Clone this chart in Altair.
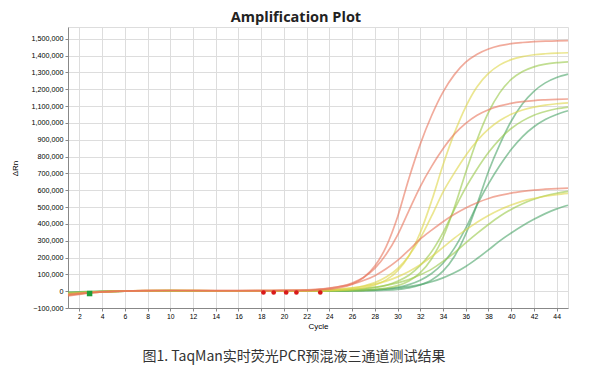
import altair as alt
import pandas as pd

cycles = [1, 2, 3, 4, 5, 6, 8, 10, 12, 14, 16, 18, 20,
          22, 23, 24, 25, 26, 27, 28, 29, 30, 31, 32, 33,
          34, 35, 36, 37, 38, 39, 40, 41, 42, 43, 44, 45]

# ΔRn values in thousands
t_red = [-24, -16, -9, -4, -1, 1, 3, 4, 3, 2, 2, 2, 3,
         3, 6, 11, 22, 42, 80, 149, 265, 441, 670, 874, 1044,
         1183, 1287, 1361, 1408, 1439, 1459, 1471, 1478, 1483, 1486, 1487, 1489]
t_yellow = [-20, -14, -8, -4, -1, 1, 3, 3, 3, 2, 1, 1, 1,
            1, 2, 3, 6, 11, 20, 37, 67, 121, 210, 348, 537,
            750, 939, 1096, 1215, 1294, 1345, 1376, 1394, 1405, 1411, 1415, 1417]
t_lgreen = [-14, -10, -6, -3, -1, 0, 2, 3, 2, 1, 1, 0, 0,
            0, 0, 1, 2, 3, 5, 10, 18, 33, 61, 110, 193,
            319, 497, 705, 900, 1062, 1180, 1258, 1305, 1333, 1349, 1358, 1363]
t_green = [-10, -7, -4, -2, -1, 0, 2, 2, 2, 1, 0, 0, 0,
           0, 0, 0, 0, 1, 2, 3, 6, 11, 20, 37, 66,
           119, 206, 339, 517, 711, 872, 1010, 1114, 1188, 1238, 1270, 1290]
m_red = [-28, -19, -11, -5, -2, 0, 3, 4, 4, 3, 3, 3, 4,
         5, 10, 17, 29, 49, 82, 136, 219, 333, 479, 622, 742,
         846, 933, 997, 1045, 1078, 1101, 1116, 1126, 1133, 1137, 1140, 1142]
m_yellow = [-22, -15, -9, -4, -1, 1, 3, 4, 3, 2, 2, 1, 2,
            2, 4, 6, 11, 18, 31, 51, 84, 134, 211, 315, 447,
            589, 703, 807, 894, 963, 1014, 1051, 1077, 1094, 1106, 1114, 1119]
m_lgreen = [-16, -11, -6, -3, -1, 0, 2, 3, 2, 2, 1, 1, 1,
            1, 2, 3, 4, 7, 13, 21, 35, 59, 95, 153, 235,
            348, 485, 615, 726, 824, 904, 967, 1012, 1046, 1068, 1084, 1094]
m_green = [-12, -8, -5, -2, -1, 0, 2, 2, 2, 1, 0, 0, 0,
           0, 0, 1, 2, 3, 5, 8, 14, 23, 39, 65, 105,
           166, 256, 375, 513, 638, 747, 842, 919, 977, 1020, 1050, 1072]
b_red = [-18, -12, -7, -3, -1, 1, 3, 4, 4, 4, 4, 5, 6,
         8, 12, 19, 28, 42, 63, 92, 133, 183, 244, 310, 363,
         413, 457, 495, 526, 551, 569, 583, 593, 601, 606, 610, 613]
b_yellow = [-15, -10, -6, -3, -1, 0, 2, 3, 3, 2, 2, 3, 4,
            5, 7, 10, 14, 20, 29, 42, 60, 85, 117, 157, 206,
            260, 315, 364, 410, 450, 484, 512, 535, 551, 564, 574, 581]
b_lgreen = [-8, -6, -3, -2, -1, 0, 1, 2, 2, 1, 1, 1, 2,
            2, 4, 5, 8, 11, 16, 24, 34, 49, 69, 97, 131,
            177, 228, 287, 343, 396, 445, 486, 520, 546, 567, 582, 593]
b_green = [-5, -4, -2, -1, 0, 0, 1, 1, 1, 1, 0, 0, 1,
           1, 1, 2, 3, 4, 6, 9, 13, 19, 27, 39, 56,
           79, 109, 147, 194, 245, 299, 346, 389, 427, 461, 489, 511]

# drawn in this order (greens underneath, reds on top)
series = {
    "A-green": t_green, "B-green": m_green, "C-green": b_green,
    "A-lgreen": t_lgreen, "B-lgreen": m_lgreen, "C-lgreen": b_lgreen,
    "A-yellow": t_yellow, "B-yellow": m_yellow, "C-yellow": b_yellow,
    "A-red": t_red, "B-red": m_red, "C-red": b_red,
}
shade = {"red": "#E8735A", "yellow": "#DDD548", "lgreen": "#98C848", "green": "#4AA468"}

y_ticks = [-100000, 0, 100000, 200000, 300000, 400000, 500000, 600000, 700000, 800000,
           900000, 1000000, 1100000, 1200000, 1300000, 1400000, 1500000]
x_ticks = [2, 4, 6, 8, 10, 12, 14, 16, 18, 20, 22, 24, 26, 28, 30, 32, 34, 36, 38, 40, 42, 44]

# threshold / marker points
mark_red_cycles = [18.2, 19.1, 20.2, 21.1, 23.2]
mark_red_values = [-8, -8, -8, -8, -8]
mark_green_cycles = [2.9]
mark_green_values = [-14]

caption = "图1. TaqMan实时荧光PCR预混液三通道测试结果"

rows = []
for order, (name, vals) in enumerate(series.items()):
    for c, v in zip(cycles, vals):
        rows.append({"series": name, "order": order, "cycle": c, "rn": v * 1000})
df = pd.DataFrame(rows)

names = list(series.keys())
colors = [shade[n.split("-")[1]] for n in names]

xscale = alt.Scale(domain=[1, 45], nice=False, zero=False)
yscale = alt.Scale(domain=[-100000, 1570000], nice=False, zero=False)

xaxis = alt.Axis(values=x_ticks, format="d", title="Cycle", tickSize=3, labelOverlap=False,
                 labelFontSize=6.8, titleFontSize=8, titleFontWeight="normal",
                 titlePadding=3, labelPadding=2)
yaxis = alt.Axis(values=y_ticks, format=",.0f", title="ΔRn", labelOverlap=False,
                 tickSize=3, labelFontSize=7.2, titleFontSize=8, titleFontWeight="normal",
                 labelPadding=2, titleX=-49, titleY=141)

X = alt.X("cycle:Q", scale=xscale, axis=xaxis)
Y = alt.Y("rn:Q", scale=yscale, axis=yaxis)

lines = alt.Chart(df).mark_line(interpolate="monotone", strokeWidth=1.7, opacity=0.6).encode(
    x=X, y=Y,
    color=alt.Color("series:N", scale=alt.Scale(domain=names, range=colors), legend=None),
    detail="series:N",
    order="order:Q",
)

red_df = pd.DataFrame({"cycle": mark_red_cycles, "rn": [v * 1000 for v in mark_red_values]})
green_df = pd.DataFrame({"cycle": mark_green_cycles, "rn": [v * 1000 for v in mark_green_values]})

red_pts = alt.Chart(red_df).mark_point(filled=True, shape="circle", size=22, color="#D91A1A", opacity=1).encode(
    x=X, y=Y)
green_pts = alt.Chart(green_df).mark_point(filled=True, shape="square", size=30, color="#1E9E3A", opacity=1).encode(
    x=X, y=Y)

cap = alt.Chart(pd.DataFrame({"t": [caption]})).mark_text(
    font="Noto Sans CJK SC", fontSize=14, color="#333333", align="center", baseline="middle"
).encode(x=alt.value(226), y=alt.value(330), text="t:N")

chart = alt.layer(lines, red_pts, green_pts, cap).properties(
    width=500, height=281,
    title=alt.TitleParams("Amplification Plot", fontSize=14.5, font="Open Sans", fontWeight="bold",
                          color="#222222", anchor="middle", dx=-22, offset=2),
    padding={"left": 60, "top": 19, "right": 13, "bottom": 70},
    autosize=alt.AutoSizeParams(type="none"),
).configure_view(stroke="#dddddd").configure_axis(
    gridColor="#eeeeee", domainColor="#d0d0d0", tickColor="#c8c8c8",
    labelColor="#555555", titleColor="#444444", labelFont="Liberation Sans", titleFont="Liberation Sans"
).configure(background="white")

chart.save("out.html", embed_options={"renderer": "svg", "actions": False})
